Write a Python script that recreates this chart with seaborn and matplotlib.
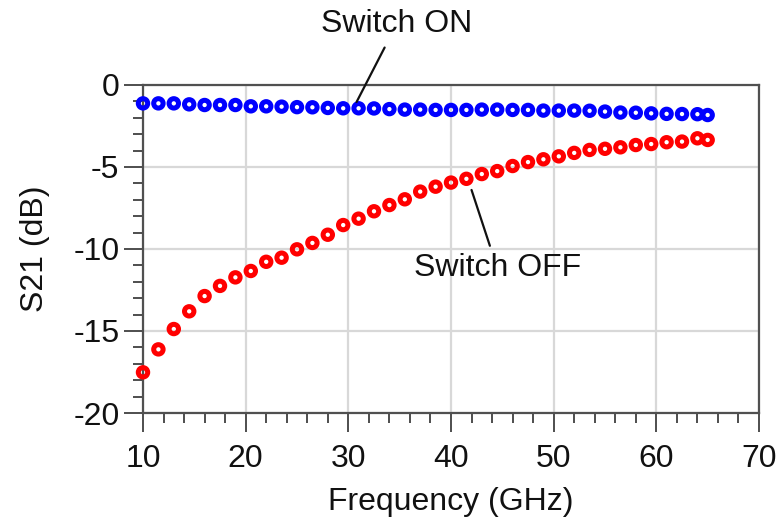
import matplotlib
matplotlib.use("Agg")
import matplotlib.pyplot as plt
from matplotlib.ticker import MultipleLocator
import seaborn as sns
import pandas as pd

freq_ghz = [10, 11.5, 13, 14.5, 16, 17.5, 19, 20.5, 22, 23.5, 25, 26.5, 28, 29.5,
            31, 32.5, 34, 35.5, 37, 38.5, 40, 41.5, 43, 44.5, 46, 47.5, 49, 50.5,
            52, 53.5, 55, 56.5, 58, 59.5, 61, 62.5, 64, 65]
s21_on = [-1.12, -1.12, -1.12, -1.18, -1.22, -1.22, -1.22, -1.30, -1.30, -1.32,
          -1.35, -1.36, -1.40, -1.42, -1.42, -1.43, -1.47, -1.50, -1.50, -1.52,
          -1.52, -1.52, -1.50, -1.50, -1.52, -1.52, -1.56, -1.56, -1.56, -1.57,
          -1.62, -1.68, -1.69, -1.73, -1.76, -1.77, -1.78, -1.83]
s21_off = [-17.52, -16.12, -14.88, -13.80, -12.87, -12.25, -11.73, -11.34, -10.78,
           -10.53, -10.02, -9.63, -9.13, -8.54, -8.15, -7.70, -7.32, -6.97, -6.50,
           -6.20, -5.95, -5.72, -5.43, -5.25, -4.94, -4.70, -4.53, -4.35, -4.14,
           -3.96, -3.89, -3.80, -3.66, -3.60, -3.49, -3.45, -3.25, -3.35]
x_ticks = [10, 20, 30, 40, 50, 60, 70]
y_ticks = [-20, -15, -10, -5, 0]

sns.set_theme(style="white")
plt.rcParams["font.family"] = ["Liberation Sans", "DejaVu Sans"]
plt.rcParams["axes.unicode_minus"] = False

fig = plt.figure(figsize=(7.78, 5.29), dpi=100)
ax = fig.add_axes([143 / 778, 1 - 413 / 529, (759 - 143) / 778, (413 - 85) / 529])

df_on = pd.DataFrame({"f": freq_ghz, "s21": s21_on})
df_off = pd.DataFrame({"f": freq_ghz, "s21": s21_off})

for df, col in [(df_on, "#0000ff"), (df_off, "#ff0000")]:
    sns.scatterplot(data=df, x="f", y="s21", ax=ax, marker="o", s=46,
                    linewidth=3.6, legend=False, zorder=3, clip_on=False)
    pc = ax.collections[-1]
    pc.set_facecolor("none")
    pc.set_edgecolor(col)
    pc.set_linewidth(3.6)

ax.set_xlim(10, 70)
ax.set_ylim(-20, 0)
ax.set_xticks(x_ticks)
ax.set_yticks(y_ticks)
ax.set_xticklabels([str(t) for t in x_ticks])
ax.set_yticklabels([str(t) for t in y_ticks])
ax.xaxis.set_minor_locator(MultipleLocator(2))
ax.yaxis.set_minor_locator(MultipleLocator(1))

ax.grid(True, which="major", color="#d8d8d8", linewidth=1.6)
ax.set_axisbelow(True)
for sp in ax.spines.values():
    sp.set_visible(True)
    sp.set_color("#505050")
    sp.set_linewidth(1.6)

ax.tick_params(axis="both", which="major", direction="out", length=14, width=1.3,
               color="#404040", labelsize=23, pad=3, labelcolor="#111111",
               bottom=True, left=True)
ax.tick_params(axis="x", which="major", pad=8)
ax.tick_params(axis="both", which="minor", direction="out", length=7, width=1.3,
               color="#404040", bottom=True, left=True)

ax.set_xlabel("Frequency (GHz)", fontsize=23, labelpad=10, color="#111111")
ax.set_ylabel("S21 (dB)", fontsize=23, labelpad=17, color="#111111")

ax.annotate("Switch ON", xy=(30.8, -1.04), xytext=(34.7, 3.7),
            textcoords="data", ha="center", va="center", fontsize=23,
            color="#111111", annotation_clip=False,
            arrowprops=dict(arrowstyle="-", color="#111111", lw=1.6,
                            shrinkA=4, shrinkB=0))
ax.annotate("Switch OFF", xy=(42.0, -6.40), xytext=(44.5, -11.16),
            textcoords="data", ha="center", va="center", fontsize=23,
            color="#111111", annotation_clip=False,
            arrowprops=dict(arrowstyle="-", color="#111111", lw=1.6,
                            shrinkA=3, shrinkB=0))

fig.savefig("out.png", dpi=100)
